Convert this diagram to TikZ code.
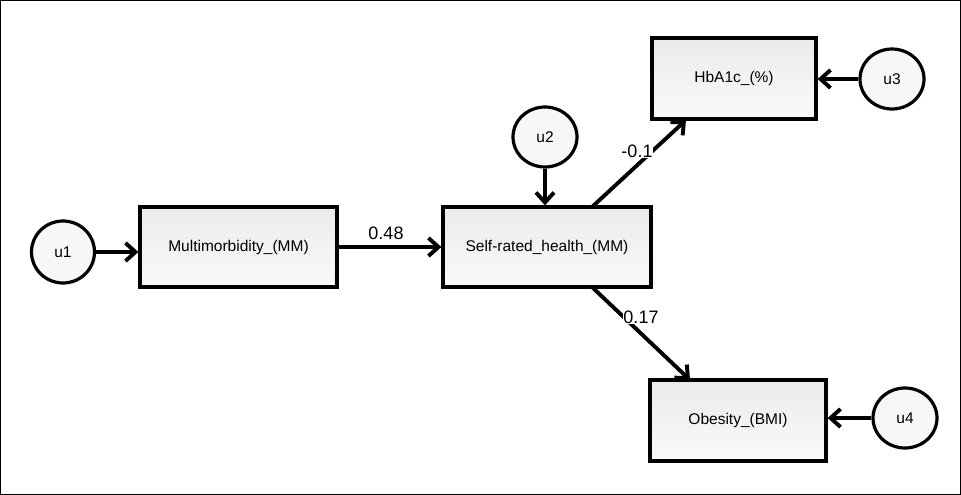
\documentclass[tikz,border=0pt]{standalone}
\usepackage{fontspec}
\setmainfont{Liberation Sans}
\usetikzlibrary{arrows.meta,shapes.geometric}
\begin{document}
\begin{tikzpicture}[x=1pt,y=-1pt,
  obs/.style={draw=black,line width=3.2pt,rectangle,inner sep=0pt,
     top color=gray!16,bottom color=white!96!gray,font=\fontsize{15.5}{18}\selectfont},
  lat/.style={draw=black,line width=3.2pt,ellipse,inner sep=0pt,fill=gray!6,
     font=\fontsize{15.5}{18}\selectfont},
  path/.style={line width=3.9pt,-{Straight Barb[length=10pt,width=18pt,line width=3.9pt]}},
  coef/.style={font=\fontsize{18}{21}\selectfont,inner sep=0.5pt}]
\useasboundingbox (0,0) rectangle (961,495);
\draw[line width=0.8pt] (0.5,0.5) rectangle (960.5,494.5);
\node[obs,minimum width=197pt,minimum height=80pt] (mm) at (238.5,247) {Multimorbidity\_(MM)};
\node[obs,minimum width=208pt,minimum height=80pt] (srh) at (547,247) {Self-rated\_health\_(MM)};
\node[obs,minimum width=164pt,minimum height=81pt] (hb) at (734,78.5) {HbA1c\_(\%)};
\node[obs,minimum width=176pt,minimum height=81pt] (ob) at (738,420.5) {Obesity\_(BMI)};
\node[lat,minimum width=63pt,minimum height=62pt] (u1) at (63,252) {u1};
\node[lat,minimum width=64pt,minimum height=60pt] (u2) at (545,137) {u2};
\node[lat,minimum width=64pt,minimum height=60pt] (u3) at (892,79) {u3};
\node[lat,minimum width=64pt,minimum height=60pt] (u4) at (905,418) {u4};
\coordinate (s1) at (592,207);
\coordinate (e1) at (686,120);
\coordinate (s2) at (592,287);
\coordinate (e2) at (690,380);
\draw[path] (u1) -- (u1.east -| mm.west);
\draw[path] (mm) -- (srh);
\node[coef] (c0) at (386,233) {0.48};
\draw[path] (u2) -- (u2.south |- srh.north);
\draw[path] (u3) -- (u3.west -| hb.east);
\draw[path] (u4) -- (u4.west -| ob.east);
\draw[path] (s1) -- (e1);
\draw[path] (s2) -- (e2);
\node[coef,fill=white] (c1) at (637,151) {-0.1};
\node[coef,fill=white] (c2) at (641,317) {0.17};
\end{tikzpicture}
\end{document}
